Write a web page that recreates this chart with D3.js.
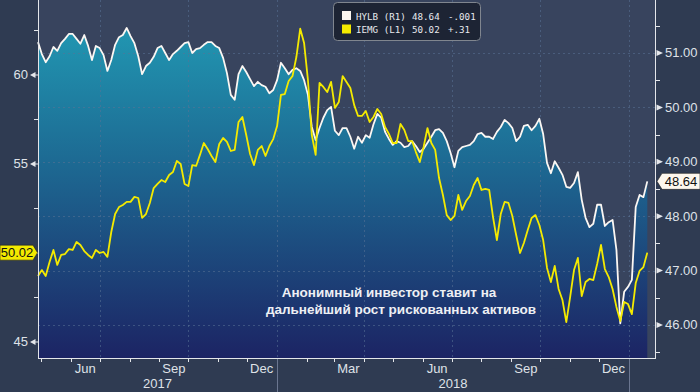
<!DOCTYPE html>
<html><head><meta charset="utf-8">
<script src="https://cdn.jsdelivr.net/npm/d3@7"></script>
<style>body{margin:0;background:#2f3b52;} svg{display:block}</style>
</head><body>
<svg id="c" width="700" height="392"></svg>
<script>
// ---- data ----
const startDate = Date.UTC(2017, 3, 28);   // first observation
const stepDays = 4;                          // sampling step of the series
const hylb = [
51.20,50.98,50.83,50.94,51.11,51.04,51.18,51.26,51.35,51.35,
51.26,51.17,51.33,51.13,50.87,51.13,51.09,50.96,50.67,50.87,
51.15,51.29,51.33,51.46,51.31,51.18,50.94,50.61,50.76,50.82,
50.93,51.09,51.13,51.00,50.87,50.98,51.04,51.11,51.18,51.20,
51.00,51.07,51.09,51.15,51.20,51.20,51.13,51.09,50.91,50.63,
50.23,50.14,50.61,50.76,50.65,50.52,50.39,50.47,50.41,50.38,
50.26,50.32,50.50,50.82,50.72,50.61,50.69,50.72,50.67,50.50,
50.23,49.64,49.40,49.62,49.81,49.95,50.01,49.57,49.49,49.62,
49.62,49.46,49.24,49.46,49.35,49.49,49.44,49.69,49.88,49.81,
49.55,49.42,49.31,49.38,49.35,49.27,49.29,49.38,49.29,49.18,
49.24,49.35,49.46,49.58,49.60,49.53,49.38,49.16,48.90,49.20,
49.27,49.29,49.31,49.38,49.51,49.53,49.46,49.46,49.42,49.55,
49.64,49.77,49.71,49.62,49.38,49.46,49.66,49.68,49.58,49.66,
49.79,49.51,48.98,48.79,49.01,48.89,48.76,48.54,48.52,48.61,
48.81,48.30,47.97,47.80,47.86,48.21,48.21,47.82,47.89,47.93,
47.38,46.03,46.61,46.70,46.83,48.17,48.39,48.35,48.64];
const iemg = [
48.71,49.04,48.71,49.49,50.17,49.33,49.89,49.94,50.22,50.17,
50.62,50.45,50.11,49.89,49.72,50.17,50.00,50.06,49.78,51.18,
52.19,52.58,52.70,52.87,52.87,53.15,53.09,51.97,52.19,52.81,
53.65,53.88,54.10,53.99,54.38,54.55,55.17,55.00,53.88,53.76,
54.94,54.89,55.51,56.18,55.84,55.45,55.11,56.12,56.46,56.24,
55.73,55.79,57.36,57.64,56.63,55.56,54.94,55.79,56.01,55.45,
56.01,56.40,57.13,58.88,58.93,59.66,59.94,61.01,62.60,61.80,
59.72,56.63,55.51,59.55,59.33,59.04,59.61,58.15,58.48,59.94,
59.61,59.27,58.31,57.70,57.70,57.98,57.36,57.64,58.09,57.81,
57.08,56.69,56.18,56.18,57.25,56.91,56.29,56.29,55.67,55.11,
55.96,57.02,56.18,55.79,54.21,53.26,52.13,51.85,52.08,53.26,
52.42,52.92,53.20,53.82,54.21,53.54,53.60,53.54,52.02,50.73,
52.19,52.87,52.81,52.08,51.01,50.00,50.56,51.29,51.97,52.13,
51.57,50.73,49.16,48.37,49.27,47.98,47.36,46.12,47.53,49.04,
49.72,47.58,48.37,48.54,48.48,49.38,50.45,49.10,48.65,47.98,
46.97,46.18,47.25,47.13,46.57,48.31,48.99,49.21,50.02];
const leftTicks = [60, 55, 50, 45];
const leftLabelTicks = [60, 55, 45];   // 50 is covered by the last-value tag
const leftMinor = [62.5, 57.5, 52.5, 47.5];
const rightTicks = [51, 50, 49, 48, 47, 46];
const rightMinor = [51.5, 50.5, 49.5, 48.5, 47.5, 46.5, 45.5];
const monthLabelNames = ["Mar", "Jun", "Sep", "Dec"];
const yearLabels = ["2017", "2018"];
const legendRows = [
  {name: "HYLB (R1)", last: "48.64", chg: "-.001", color: "#fbf5f0"},
  {name: "IEMG (L1)", last: "50.02", chg: "+.31", color: "#f4ea00"}];
const lastLeft = "50.02", lastRight = "48.64";
const annotation = ["Анонимный инвестор ставит на", "дальнейший рост рискованных активов"];

// ---- layout ----
const W = 700, H = 392;
const L = 38, R = 655, T = 0, B = 358;
const svg = d3.select("#c");
const FONT = "'Liberation Sans', Arial, sans-serif";

const x = d3.scaleUtc().domain([startDate, Date.UTC(2019, 0, 28)]).range([L, R]);
const yL = d3.scaleLinear().domain([44.101, 64.213]).range([B, T]);
const yR = d3.scaleLinear().domain([45.393, 51.974]).range([B, T]);
const dateAt = i => d3.utcDay.offset(new Date(startDate), i * stepDays);
const sH = hylb.map((v, i) => ({d: dateAt(i), v}));
const sI = iemg.map((v, i) => ({d: dateAt(i), v}));

svg.append("rect").attr("width", W).attr("height", H).attr("fill", "#2f3b52");
svg.append("rect").attr("x", L).attr("y", T).attr("width", R - L).attr("height", B - T).attr("fill", "#38445e");

const defs = svg.append("defs");
const g = defs.append("linearGradient").attr("id", "ag").attr("gradientUnits", "userSpaceOnUse")
  .attr("x1", 0).attr("x2", 0).attr("y1", T).attr("y2", B);
g.append("stop").attr("offset", 0).attr("stop-color", "#22a0b8");
g.append("stop").attr("offset", 0.45).attr("stop-color", "#1d6a93");
g.append("stop").attr("offset", 1).attr("stop-color", "#1c2464");

svg.append("path").datum(sH)
  .attr("d", d3.area().x(d => x(d.d)).y0(B).y1(d => yR(d.v)))
  .attr("fill", "url(#ag)");

// grid
const grid = svg.append("g").attr("stroke", "#5a7396").attr("stroke-opacity", 0.55)
  .attr("stroke-dasharray", "2,3").attr("stroke-width", 1);
rightTicks.forEach(t => grid.append("line").attr("x1", L).attr("x2", R)
  .attr("y1", Math.round(yR(t)) + 0.5).attr("y2", Math.round(yR(t)) + 0.5));
d3.utcMonth.every(3).range(new Date(Date.UTC(2017, 6, 1)), new Date(Date.UTC(2019, 0, 2))).forEach(d =>
  grid.append("line").attr("x1", Math.round(x(d)) + 0.5).attr("x2", Math.round(x(d)) + 0.5).attr("y1", T).attr("y2", B));

// lines
const line = sc => d3.line().x(d => x(d.d)).y(d => sc(d.v));
svg.append("path").datum(sH).attr("d", line(yR)).attr("fill", "none")
  .attr("stroke", "#fbf7f3").attr("stroke-width", 1.8).attr("stroke-linejoin", "round");
svg.append("path").datum(sI).attr("d", line(yL)).attr("fill", "none")
  .attr("stroke", "#f4ea00").attr("stroke-width", 1.8).attr("stroke-linejoin", "round");

// axes lines
const axC = "#e4e6ea";
svg.append("line").attr("x1", L + 0.5).attr("x2", L + 0.5).attr("y1", T).attr("y2", B + 1).attr("stroke", axC);
svg.append("line").attr("x1", R + 0.5).attr("x2", R + 0.5).attr("y1", T).attr("y2", B + 1).attr("stroke", axC);
svg.append("line").attr("x1", L).attr("x2", R + 1).attr("y1", B + 0.5).attr("y2", B + 0.5).attr("stroke", axC);

// left axis
leftTicks.forEach(t => {
  const yy = yL(t);
  svg.append("path").attr("d", `M30,${yy}L35.5,${yy - 3}L35.5,${yy + 3}Z`).attr("fill", axC);
  svg.append("line").attr("x1", 35).attr("x2", L).attr("y1", yy).attr("y2", yy).attr("stroke", axC);
});
leftLabelTicks.forEach(t => {
  svg.append("text").attr("x", 28).attr("y", yL(t) + 4.5).attr("text-anchor", "end")
    .attr("font-family", FONT).attr("font-size", 13).attr("fill", "#dfe2e8").text(t);
});
leftMinor.forEach(t => svg.append("line").attr("x1", 34).attr("x2", L).attr("y1", Math.round(yL(t)) + 0.5)
  .attr("y2", Math.round(yL(t)) + 0.5).attr("stroke", axC));

// right axis
rightTicks.forEach(t => {
  const yy = yR(t);
  svg.append("path").attr("d", `M663,${yy}L656.5,${yy - 3}L656.5,${yy + 3}Z`).attr("fill", axC);
  svg.append("text").attr("x", 665).attr("y", yy + 4.5).attr("font-family", FONT).attr("font-size", 13)
    .attr("fill", "#dfe2e8").text(d3.format(".2f")(t));
});
rightMinor.forEach(t => svg.append("line").attr("x1", R).attr("x2", R + 5).attr("y1", Math.round(yR(t)) + 0.5)
  .attr("y2", Math.round(yR(t)) + 0.5).attr("stroke", axC));

// bottom axis
const months = d3.utcMonth.range(new Date(Date.UTC(2017, 4, 1)), new Date(Date.UTC(2019, 0, 2)));
months.forEach(d => svg.append("line").attr("x1", Math.round(x(d)) + 0.5).attr("x2", Math.round(x(d)) + 0.5)
  .attr("y1", B).attr("y2", B + 4).attr("stroke", axC));
months.filter(d => [2, 5, 8, 11].includes(d.getUTCMonth())).forEach(d => {
  const mid = d3.utcDay.offset(d, 15);
  svg.append("text").attr("x", x(mid)).attr("y", 373).attr("text-anchor", "middle")
    .attr("font-family", FONT).attr("font-size", 13).attr("fill", "#dfe2e8")
    .text(monthLabelNames[[2, 5, 8, 11].indexOf(d.getUTCMonth())]);
});
const yb = [Date.UTC(2018, 0, 1), Date.UTC(2019, 0, 1)];
yb.forEach(t => svg.append("line").attr("x1", Math.round(x(t)) + 0.5).attr("x2", Math.round(x(t)) + 0.5)
  .attr("y1", B + 1).attr("y2", H).attr("stroke", "#6b7690"));
svg.append("text").attr("x", (L + x(yb[0])) / 2).attr("y", 388).attr("text-anchor", "middle")
  .attr("font-family", FONT).attr("font-size", 13).attr("fill", "#dfe2e8").text(yearLabels[0]);
svg.append("text").attr("x", (x(yb[0]) + x(yb[1])) / 2).attr("y", 388).attr("text-anchor", "middle")
  .attr("font-family", FONT).attr("font-size", 13).attr("fill", "#dfe2e8").text(yearLabels[1]);

// last-value tags
{
  const cy = yL(+lastLeft);
  svg.append("path").attr("d", `M0,${cy - 7.5}H33L37.5,${cy}L33,${cy + 7.5}H0Z`)
    .attr("fill", "#f4ea00").attr("stroke", "#222").attr("stroke-width", 0.6);
  svg.append("text").attr("x", 17).attr("y", cy + 4.5).attr("text-anchor", "middle")
    .attr("font-family", FONT).attr("font-size", 13).attr("fill", "#111").text(lastLeft);
}
{
  const cy = yR(+lastRight);
  svg.append("path").attr("d", `M657,${cy}L662,${cy - 8}H700V${cy + 8}H662Z`)
    .attr("fill", "#fdf7ee").attr("stroke", "#222").attr("stroke-width", 0.6);
  svg.append("text").attr("x", 681).attr("y", cy + 4.5).attr("text-anchor", "middle")
    .attr("font-family", FONT).attr("font-size", 13).attr("fill", "#111").text(lastRight);
}

// legend
const lg = svg.append("g");
lg.append("rect").attr("x", 333.5).attr("y", 2.5).attr("width", 147).attr("height", 38).attr("rx", 4)
  .attr("fill", "#1d2434").attr("stroke", "#80868f");
legendRows.forEach((r, i) => {
  const yy = 11 + i * 13.5;
  lg.append("rect").attr("x", 342).attr("y", yy).attr("width", 9).attr("height", 9).attr("fill", r.color);
  [[356, r.name], [412, r.last], [448, r.chg]].forEach(([xx, s]) =>
    lg.append("text").attr("x", xx).attr("y", yy + 8.5).attr("font-family", "'DejaVu Sans Mono', monospace")
      .attr("font-size", 9.2).attr("fill", "#e8eaee").text(s));
});

// annotation
svg.append("text").attr("x", 389).attr("y", 297).attr("text-anchor", "middle")
  .attr("font-family", FONT).attr("font-weight", "bold").attr("font-size", 13.5).attr("fill", "#eef0f4").text(annotation[0]);
svg.append("text").attr("x", 401).attr("y", 313.5).attr("text-anchor", "middle")
  .attr("font-family", FONT).attr("font-weight", "bold").attr("font-size", 13.5).attr("fill", "#eef0f4").text(annotation[1]);
</script>
</body></html>
